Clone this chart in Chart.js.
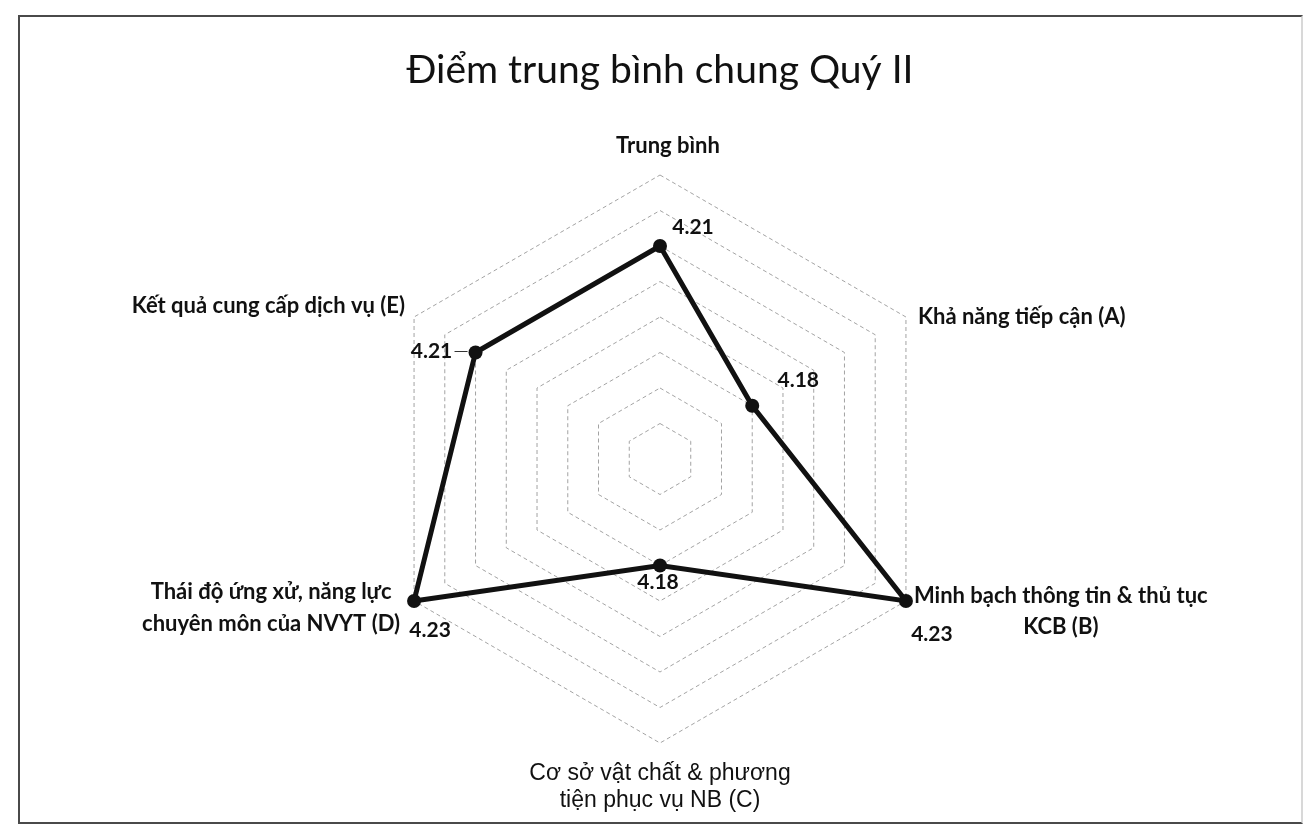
<!DOCTYPE html>
<html lang="vi"><head>
<meta charset="utf-8"/>
<title>Điểm trung bình chung Quý II</title>
<script src="https://cdn.jsdelivr.net/npm/chart.js"></script>
<style>
    html, body { margin: 0; padding: 0; background: #fff; }
    #wrap { position: relative; width: 1303px; height: 832px; }
    #frame {
        position: absolute; left: 18px; top: 15px; width: 1285px; height: 809px;
        border: 2px solid #4a4a4a; border-right-color: #d8d8d8;
        box-sizing: border-box; pointer-events: none;
    }
</style>
</head>
<body>
<div id="wrap">
    <canvas id="radarChart"></canvas>
    <div id="frame"></div>
</div>
<script>
    // chart data
    const categories = [
        ['Trung bình'],
        ['Khả năng tiếp cận (A)'],
        ['Minh bạch thông tin & thủ tục', 'KCB (B)'],
        ['Cơ sở vật chất & phương', 'tiện phục vụ NB (C)'],
        ['Thái độ ứng xử, năng lực', 'chuyên môn của NVYT (D)'],
        ['Kết quả cung cấp dịch vụ (E)']
    ];
    const scores = [4.21, 4.18, 4.23, 4.18, 4.23, 4.21];
    const scaleMin = 4.15;
    const scaleMax = 4.23;
    const scaleStep = 0.01;

    // where each axis label sits, relative to the outer ring vertex
    const labelPlacement = [
        { dx: 8, dy: -29, align: 'center', gap: 0 },
        { dx: 12, dy: 0, align: 'left', gap: 0 },
        { dx: 8, dy: -5, align: 'left', gap: 31 },
        { dx: 0, dy: 31, align: 'center', gap: 27 },
        { dx: -14, dy: -9, align: 'right', gap: 32 },
        { dx: -9, dy: -11, align: 'right', gap: 0 }
    ];
    // value label offsets from each point
    const valueOffsets = [[33, -19], [46, -26], [26, 33], [-2, 17], [16, 29], [-44, -1]];

    const axisFont = 'bold 22px Lato';
    const axisFontC = '23px "Liberation Sans"';

    const labelsPlugin = {
        id: 'radarLabels',
        afterDatasetsDraw(chart) {
            const ctx = chart.ctx;
            const scale = chart.scales.r;
            const meta = chart.getDatasetMeta(0);
            ctx.save();
            ctx.fillStyle = '#111';
            ctx.textBaseline = 'middle';

            categories.forEach((lines, i) => {
                const p = scale.getPointPosition(i, scale.drawingArea);
                const pl = labelPlacement[i];
                ctx.font = i === 3 ? axisFontC : axisFont;
                const w = Math.max(...lines.map(l => ctx.measureText(l).width));
                let cx = p.x + pl.dx;
                if (pl.align === 'left') cx += w / 2;
                if (pl.align === 'right') cx -= w / 2;
                ctx.textAlign = 'center';
                lines.forEach((line, j) => {
                    ctx.fillText(line, cx, p.y + pl.dy + j * pl.gap);
                });
            });

            ctx.font = 'bold 21px Lato';
            ctx.textAlign = 'center';
            meta.data.forEach((pt, i) => {
                const [ox, oy] = valueOffsets[i];
                ctx.fillText(scores[i].toFixed(2), pt.x + ox, pt.y + oy);
            });

            // small leader line next to the E value
            const e = meta.data[5];
            ctx.strokeStyle = '#333';
            ctx.lineWidth = 1;
            ctx.beginPath();
            ctx.moveTo(e.x - 21, e.y - 1);
            ctx.lineTo(e.x - 8, e.y - 1);
            ctx.stroke();
            ctx.restore();
        }
    };

    const ctx = document.getElementById('radarChart').getContext('2d');
    const chart = new Chart(ctx, {
        type: 'radar',
        data: {
            labels: categories,
            datasets: [{
                label: 'Điểm',
                data: scores,
                fill: false,
                borderColor: '#111',
                borderWidth: 5,
                pointRadius: 7,
                pointHoverRadius: 7,
                pointBackgroundColor: '#111',
                pointBorderWidth: 0,
                tension: 0
            }]
        },
        options: {
            responsive: true,
            maintainAspectRatio: false,
            animation: false,
            layout: {
                padding: { left: 376, right: 359, top: 0, bottom: 88 }
            },
            scales: {
                r: {
                    min: scaleMin,
                    max: scaleMax,
                    angleLines: { display: false },
                    grid: { color: '#a3a3a3', lineWidth: 1 },
                    border: { dash: [4, 3] },
                    pointLabels: { display: false },
                    ticks: { display: false, stepSize: scaleStep }
                }
            },
            plugins: {
                legend: { display: false },
                tooltip: { enabled: false },
                title: {
                    display: true,
                    text: 'Điểm trung bình chung Quý II',
                    color: '#111',
                    font: { family: 'Lato', size: 39, weight: 'normal' },
                    padding: { top: 47, bottom: 82 }
                }
            }
        },
        plugins: [labelsPlugin]
    });
</script>
</body></html>
